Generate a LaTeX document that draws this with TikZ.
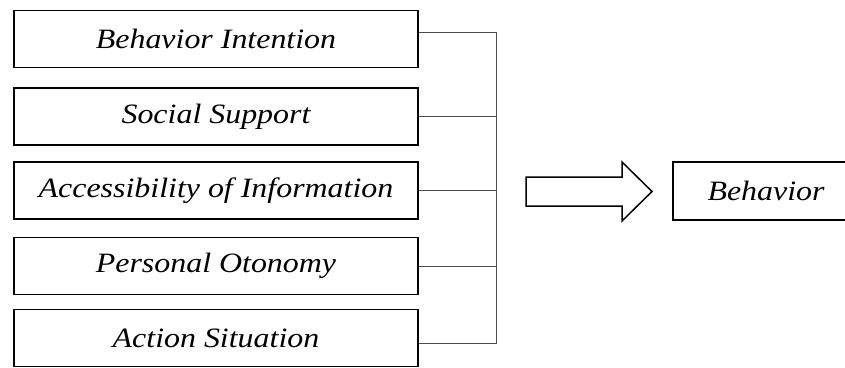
\documentclass[tikz,border=0pt]{standalone}
\usepackage{fontspec}
\usepackage{graphicx}
\setmainfont{Liberation Serif}
\usetikzlibrary{positioning,calc}
\newcommand{\lbl}[1]{\scalebox{1.14}[1]{#1}}
\tikzset{
	model/.style={x=1pt,y=-1pt,node distance=17pt},
	factor/.style={draw,line width=1.5pt,minimum width=404pt,minimum height=57pt,
		inner sep=0pt,font=\fontsize{28}{30}\selectfont\itshape},
	result/.style={factor,minimum width=186pt,minimum height=58pt},
	link/.style={draw=black!70,line width=0.8pt},
	bigarrow/.style={draw,line width=1.5pt,line join=miter}
}

\begin{document}
\begin{tikzpicture}[model]
		\useasboundingbox (0,0) rectangle (845,367);
		
		\node[factor] (bi) at (216,39) {\lbl{Behavior Intention}};
		\node[factor] (ss) [below=19pt of bi] {\lbl{Social Support}};
		\node[factor] (ai) [below=15.5pt of ss] {\lbl{Accessibility of Information}};
		\node[factor] (po) [below=of ai] {\lbl{Personal Otonomy}};
		\node[factor] (as) [below=13.5pt of po] {\lbl{Action Situation}};
		\node[result] (beh) at (766,191) {\lbl{Behavior}};
		
		\coordinate (bus) at (496,0);
		\coordinate (bij) at ([yshift=7pt]bi.east);
		\coordinate (asj) at ([yshift=-5pt]as.east);
		
		% joining lines
		\draw[link] (bij) -| (bus |- asj) -- (asj);
		\draw[link] (ss.east) -- (ss.east -| bus);
		\draw[link] (ai.east) -- (ai.east -| bus);
		\draw[link] (po.east) -- (po.east -| bus);
		
		% block arrow
		\draw[bigarrow] (526,177) -- (622,177) -- (622,162) -- (652,191.5)
			-- (622,221) -- (622,206) -- (526,206) -- cycle;
		
		\end{tikzpicture}
\end{document}
